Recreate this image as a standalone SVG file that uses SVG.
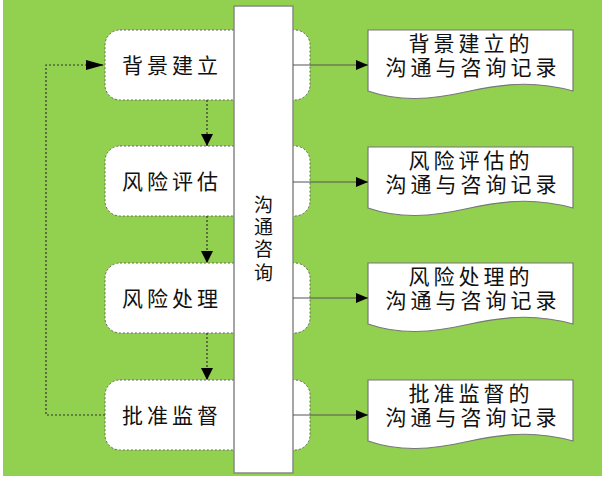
<svg xmlns="http://www.w3.org/2000/svg" width="602" height="480" viewBox="0 0 602 480">
<defs>
<style>
.box{fill:#fff;stroke:#666;stroke-width:1;stroke-dasharray:2,2}
.doc{fill:#fff;stroke:#777;stroke-width:1.2}
.t{font-family:"Noto Sans CJK SC","Noto Sans CJK JP",sans-serif;font-size:21px;fill:#111;text-anchor:middle;letter-spacing:4px}
.v{font-family:"Noto Sans CJK SC","Noto Sans CJK JP",sans-serif;font-size:19px;fill:#111;text-anchor:middle}
.dot{fill:none;stroke:#333;stroke-width:1.2;stroke-dasharray:2,2}
.ln{fill:none;stroke:#555;stroke-width:1.2}
</style>
<marker id="ah" viewBox="0 0 12 10" refX="12" refY="5" markerWidth="12" markerHeight="10" markerUnits="userSpaceOnUse" orient="auto">
<path d="M0,0 L12,5 L0,10 Z" fill="#000"/>
</marker>
<marker id="ahd" viewBox="0 0 12 12" refX="12" refY="6" markerWidth="12" markerHeight="12" markerUnits="userSpaceOnUse" orient="auto">
<path d="M0,0 L12,6 L0,12 Z" fill="#000"/>
</marker>
<marker id="ahl" viewBox="0 0 18 10" refX="18" refY="5" markerWidth="18" markerHeight="10" markerUnits="userSpaceOnUse" orient="auto">
<path d="M0,0 L18,5 L0,10 Z" fill="#000"/>
</marker>
</defs>
<rect x="3" y="0" width="599" height="476" fill="#92D050"/>

<g id="step1"><rect class="box" x="105" y="30" width="205" height="70" rx="15"/><text class="t" x="172" y="73">背景建立</text></g>
<g id="step2"><rect class="box" x="105" y="146" width="205" height="70" rx="15"/><text class="t" x="172" y="189">风险评估</text></g>
<g id="step3"><rect class="box" x="105" y="263" width="205" height="70" rx="15"/><text class="t" x="172" y="306">风险处理</text></g>
<g id="step4"><rect class="box" x="105" y="380" width="205" height="70" rx="15"/><text class="t" x="172" y="423">批准监督</text></g>

<g id="comm"><rect x="234" y="6" width="59" height="467" fill="#fff" stroke="#888" stroke-width="1.5"/>
<text class="v" x="263.5" y="212">沟</text>
<text class="v" x="263.5" y="234">通</text>
<text class="v" x="263.5" y="256">咨</text>
<text class="v" x="263.5" y="280">询</text></g>

<g id="doc1"><path class="doc" d="M368,30 H573 V91 C540,82 510,82 470,91 C430,100 400,102 368,91 Z"/><text class="t" x="471" y="51">背景建立的</text><text class="t" x="473" y="75">沟通与咨询记录</text></g>
<g id="doc2"><path class="doc" d="M368,147 H573 V208 C540,199 510,199 470,208 C430,217 400,219 368,208 Z"/><text class="t" x="471" y="168">风险评估的</text><text class="t" x="473" y="192">沟通与咨询记录</text></g>
<g id="doc3"><path class="doc" d="M368,263 H573 V324 C540,315 510,315 470,324 C430,333 400,335 368,324 Z"/><text class="t" x="471" y="284">风险处理的</text><text class="t" x="473" y="308">沟通与咨询记录</text></g>
<g id="doc4"><path class="doc" d="M368,380 H573 V441 C540,432 510,432 470,441 C430,450 400,452 368,441 Z"/><text class="t" x="471" y="401">批准监督的</text><text class="t" x="473" y="425">沟通与咨询记录</text></g>

<g id="connectors">
<line class="dot" x1="207" y1="100" x2="207" y2="146" marker-end="url(#ahd)"/>
<line class="dot" x1="207" y1="216" x2="207" y2="263" marker-end="url(#ahd)"/>
<line class="dot" x1="207" y1="333" x2="207" y2="380" marker-end="url(#ahd)"/>
<polyline class="dot" points="105,415 46,415 46,65 104,65" marker-end="url(#ahl)"/>
<line class="ln" x1="293" y1="65" x2="368" y2="65" marker-end="url(#ah)"/>
<line class="ln" x1="293" y1="182" x2="368" y2="182" marker-end="url(#ah)"/>
<line class="ln" x1="293" y1="298" x2="368" y2="298" marker-end="url(#ah)"/>
<line class="ln" x1="293" y1="415" x2="368" y2="415" marker-end="url(#ah)"/>
</g>
</svg>
